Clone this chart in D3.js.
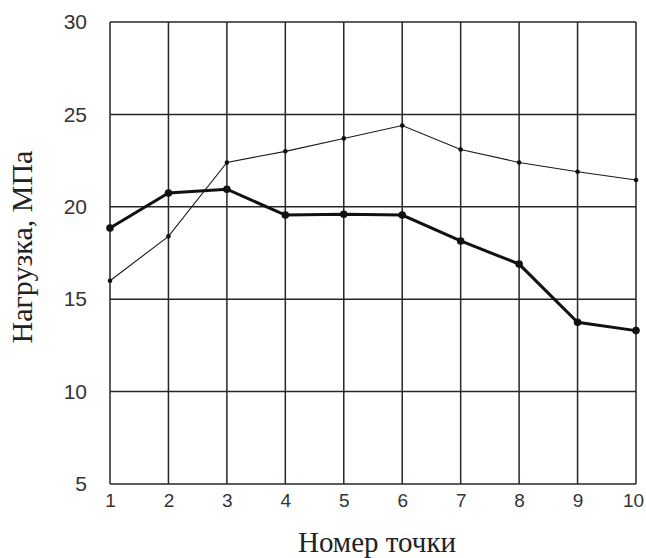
<!DOCTYPE html>
<html>
<head>
<meta charset="utf-8">
<script src="https://cdn.jsdelivr.net/npm/d3@7"></script>
<style>
  html, body { margin: 0; padding: 0; background: #fff; }
  svg { display: block; }
</style>
</head>
<body>
<svg id="chart" width="646" height="558"></svg>
<script>
// Measurement point numbers
const points = [1, 2, 3, 4, 5, 6, 7, 8, 9, 10];
// Load, MPa — thin curve
const seriesThin = [16.0, 18.4, 22.4, 23.0, 23.7, 24.4, 23.1, 22.4, 21.9, 21.45];
// Load, MPa — bold curve
const seriesBold = [18.85, 20.75, 20.95, 19.55, 19.6, 19.55, 18.15, 16.9, 13.75, 13.3];
// Axis ticks
const yTicks = [5, 10, 15, 20, 25, 30];
const xTicks = points;

const svg = d3.select("#chart");
const plot = { left: 110, right: 636, top: 22, bottom: 484 };

const x = d3.scaleLinear().domain([1, 10]).range([plot.left, plot.right]);
const y = d3.scaleLinear().domain([5, 30]).range([plot.bottom, plot.top]);

const gridColor = "#262626";

// Grid: vertical lines
svg.append("g").selectAll("line").data(xTicks).join("line")
  .attr("x1", d => x(d)).attr("x2", d => x(d))
  .attr("y1", plot.top).attr("y2", plot.bottom)
  .attr("stroke", gridColor).attr("stroke-width", 1.5);

// Grid: horizontal lines
svg.append("g").selectAll("line").data(yTicks).join("line")
  .attr("x1", plot.left).attr("x2", plot.right)
  .attr("y1", d => y(d)).attr("y2", d => y(d))
  .attr("stroke", gridColor).attr("stroke-width", 1.5);

// Y axis labels
const yAxis = d3.axisLeft(y).tickValues(yTicks).tickSize(0).tickPadding(23);
svg.append("g").attr("transform", `translate(${plot.left},0)`).call(yAxis)
  .call(g => g.select(".domain").remove())
  .call(g => g.selectAll("text")
    .attr("font-family", "Arial, 'Liberation Sans', sans-serif")
    .attr("font-size", 21).attr("fill", "#333"));

// X axis labels (last one pulled in slightly so it stays inside the frame)
const xAxis = d3.axisBottom(x).tickValues(xTicks).tickSize(0).tickPadding(10);
svg.append("g").attr("transform", `translate(0,${plot.bottom})`).call(xAxis)
  .call(g => g.select(".domain").remove())
  .call(g => g.selectAll("text")
    .attr("font-family", "Arial, 'Liberation Sans', sans-serif")
    .attr("font-size", 19).attr("fill", "#333")
    .attr("dx", d => d === 10 ? -3 : 0));

const line = d3.line().x((d, i) => x(points[i])).y(d => y(d));

// Thin curve
svg.append("path").datum(seriesThin)
  .attr("d", line).attr("fill", "none")
  .attr("stroke", "#1a1a1a").attr("stroke-width", 1.1);
svg.append("g").selectAll("circle").data(seriesThin).join("circle")
  .attr("cx", (d, i) => x(points[i])).attr("cy", d => y(d))
  .attr("r", 2.3).attr("fill", "#111");

// Bold curve
svg.append("path").datum(seriesBold)
  .attr("d", line).attr("fill", "none")
  .attr("stroke", "#111").attr("stroke-width", 3);
svg.append("g").selectAll("circle").data(seriesBold).join("circle")
  .attr("cx", (d, i) => x(points[i])).attr("cy", d => y(d))
  .attr("r", 3.8).attr("fill", "#111");

// Axis titles
svg.append("text")
  .attr("transform", "translate(32,247) rotate(-90)")
  .attr("text-anchor", "middle")
  .attr("font-family", "'Liberation Serif', 'Times New Roman', serif")
  .attr("font-size", 30).attr("fill", "#222")
  .text("Нагрузка, МПа");

svg.append("text")
  .attr("x", 377).attr("y", 552)
  .attr("text-anchor", "middle")
  .attr("font-family", "'Liberation Serif', 'Times New Roman', serif")
  .attr("font-size", 29).attr("fill", "#222")
  .text("Номер точки");
</script>
</body>
</html>
